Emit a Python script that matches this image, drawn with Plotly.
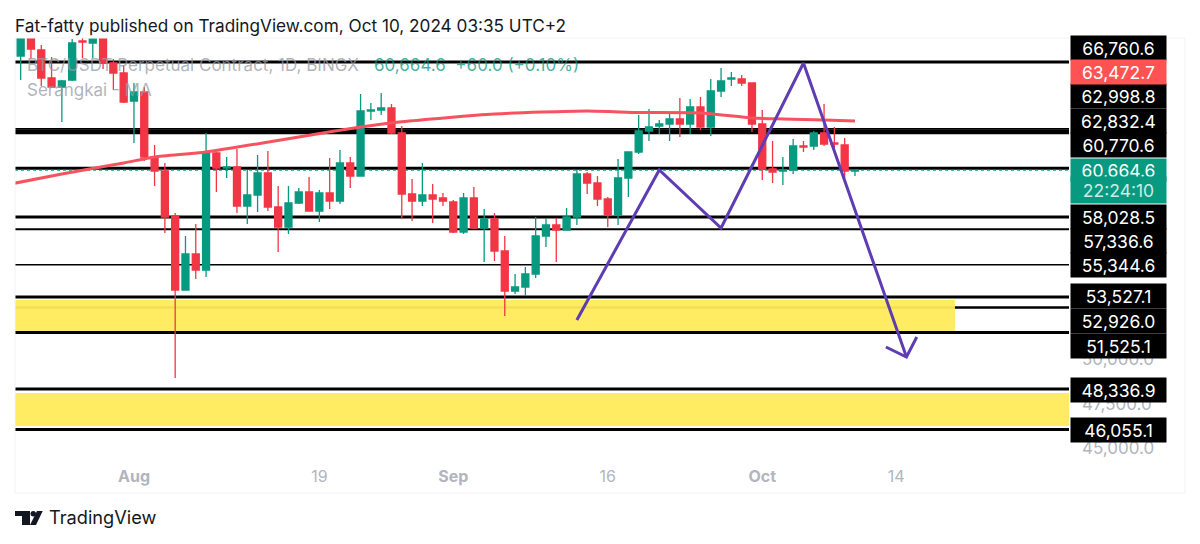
# tradingview btc chart rebuilt with plotly

import pandas as pd
import plotly.graph_objects as go

# the page body has an 8px margin, so the figure is 8px smaller and all pixel helpers shift by 8
PAGE = 8
W, H = 1200 - PAGE, 544 - PAGE
LEFT, RIGHT, TOP, BOTTOM = 15 - PAGE, 1069 - PAGE, 38 - PAGE, 460 - PAGE

dates = pd.date_range("2024-07-21", "2024-10-10", freq="D")

opens = [67099, 68113, 67437, 65859, 65352, 65747, 67944, 67831, 68113, 66705, 66141,
         64564, 65071, 61409, 60620, 58085, 53915, 55944, 55042, 61634, 60789, 60845,
         58648, 59268, 60507, 58592, 57465, 58817, 59437, 58366, 59380, 58930, 61071,
         60338, 64000, 64057, 64169, 62761, 59324, 58930, 59268, 59099,
         58873, 57183, 59099, 57408, 57916, 56113, 53859, 54084, 54817, 56958, 57577,
         57296, 58028, 60451, 59944, 59042, 58141, 60225, 61690, 62873, 63155, 63268,
         63550, 63268, 64226, 63099, 65127, 65803, 65803, 65578,
         63268, 60733, 60620, 60676, 62028, 62028, 62761, 62197, 62085, 60620]
highs = [68300, 68300, 67719, 67043, 65747, 68057, 68113, 68200, 68300, 66930, 66592,
         65578, 65352, 62085, 61071, 58254, 56958, 57634, 62761, 61690, 61409, 61859,
         60676, 61521, 61747, 59775, 59775, 59662, 60282, 59549, 61352, 61803, 61409,
         64958, 64451, 65014, 64395, 63155, 60169, 61071, 59887, 59380,
         58986, 59380, 59718, 58479, 58254, 56958, 54817, 55211, 58028, 57972, 57972,
         58535, 60676, 60564, 60338, 59155, 61296, 61690, 63775, 64113, 63493, 63888,
         64733, 64676, 64789, 65803, 66423, 66198, 66028, 65578,
         64057, 62310, 61409, 62423, 62310, 62873, 64395, 63099, 62479, 60676]
lows = [65747, 66930, 65409, 65296, 63381, 65690, 66986, 66986, 66367, 65183, 64451,
        62197, 61183, 59775, 57127, 48957, 53915, 54535, 54648, 59437, 60225, 58254,
        57634, 58310, 58366, 56056, 57070, 58761, 58366, 57747, 58479, 58761, 59662,
        60338, 63493, 63775, 62704, 57916, 57803, 58648, 57690, 58648,
        57127, 57070, 57352, 55493, 55549, 52451, 53690, 53577, 54591, 56338, 55493,
        57296, 57577, 59324, 58648, 57465, 57577, 59155, 61578, 62310, 62704, 62310,
        62535, 62704, 62930, 62592, 64789, 65409, 65409, 62817,
        60113, 59944, 59831, 60451, 61690, 61803, 62028, 61803, 60225, 60338]
closes = [68113, 67493, 65859, 65352, 65690, 67831, 67888, 68057, 66705, 66141, 64507,
          65071, 61409, 60620, 58028, 53915, 55944, 55042, 61634, 60789, 60845, 58648,
          59268, 60507, 58592, 57465, 58817, 59437, 58366, 59380, 58930, 61071, 60338,
          64000, 64057, 64169, 62761, 59324, 58930, 59268, 59042, 58930,
          57183, 59099, 57408, 57916, 56113, 53859, 54084, 54817, 56958, 57577, 57296,
          58028, 60451, 59944, 59042, 58141, 60225, 61690, 62873, 63099, 63268, 63550,
          63268, 64226, 63099, 65127, 65690, 65859, 65578, 63268,
          60733, 60564, 60676, 62028, 61972, 62761, 62141, 62141, 60620, 60664]

ma_dates = ["2024-07-20", "2024-07-25", "2024-07-31", "2024-08-03", "2024-08-08", "2024-08-17",
            "2024-08-23", "2024-08-27", "2024-09-05", "2024-09-14", "2024-09-19", "2024-09-25",
            "2024-09-30", "2024-10-03", "2024-10-07", "2024-10-10"]
ma_values = [59887, 60451, 61071, 61409, 61690, 62535, 63099, 63397, 63831, 64000, 63916,
             63888, 63606, 63550, 63493, 63437]

pattern_dates = ["2024-09-13", "2024-09-21", "2024-09-27", "2024-10-05", "2024-10-15"]
pattern_prices = [52225, 60676, 57408, 66705, 50141]
arrow_dates = ["2024-10-13", "2024-10-15", "2024-10-16"]
arrow_prices = [50704, 50141, 51267]

last_price = 60664.6
ma_price = 63472.7
level_prices = [66760.6, 62998.8, 62832.4, 60770.6, 58028.5, 57336.6, 55344.6, 53527.1, 52926.0, 51525.1, 48336.9, 46055.1]
level_widths = [3, 1.5, 5, 3, 3, 2, 1.5, 3, 2.5, 3, 3, 3]
level_label_rows = [48, 96, 121, 145, 217, 241, 265, 296, 321, 346, 390, 430]

# the other round prices are hidden behind the black level labels
tick_prices = [45000, 47500, 50000]
time_ticks = ["2024-08-01", "2024-08-19", "2024-09-01", "2024-09-16", "2024-10-01", "2024-10-14"]
time_labels = ["<b>Aug</b>", "19", "<b>Sep</b>", "16", "<b>Oct</b>", "14"]

zones = [("2024-07-20 10:48", "2024-10-19 17:00", 53352, 51605),
         ("2024-07-20 10:48", "2024-10-30 18:43", 48112, 46253)]

GREEN = "#089981"
RED = "#F23645"
GREY = "#B2B5BE"
FONT = "Inter"


def px_x(x):
    return (x - PAGE - LEFT) / (RIGHT - LEFT)


def px_y(y):
    return (BOTTOM - (y - PAGE)) / (BOTTOM - TOP)


fig = go.Figure()

fig.add_trace(go.Candlestick(
    x=dates, open=opens, high=highs, low=lows, close=closes,
    increasing=dict(line=dict(color=GREEN, width=1.3), fillcolor=GREEN),
    decreasing=dict(line=dict(color=RED, width=1.3), fillcolor=RED),
    whiskerwidth=0, showlegend=False,
))
fig.add_trace(go.Scatter(x=ma_dates, y=ma_values, mode="lines", showlegend=False,
                         line=dict(color="#F7525F", width=3, shape="spline", smoothing=0.6)))
fig.add_trace(go.Scatter(x=pattern_dates, y=pattern_prices, mode="lines", showlegend=False,
                         line=dict(color="#5E3DB3", width=3)))
fig.add_trace(go.Scatter(x=arrow_dates, y=arrow_prices, mode="lines", showlegend=False,
                         line=dict(color="#5E3DB3", width=3)))

# horizontal levels sit under the candles
for price, width in zip(level_prices, level_widths):
    fig.add_shape(type="line", xref="paper", x0=0, x1=1, yref="y", y0=price, y1=price,
                  line=dict(color="#000000", width=width), layer="below")
fig.add_shape(type="line", xref="paper", x0=0, x1=1, yref="y", y0=last_price, y1=last_price,
              line=dict(color=GREEN, width=1, dash="dot"), layer="below")
for start, end, upper, lower in zones:
    fig.add_shape(type="rect", xref="x", x0=start, x1=end, yref="y", y0=lower, y1=upper,
                  fillcolor="#FFEB5A", opacity=0.95, line_width=0, layer="below")

# light frame round the whole chart
fig.add_shape(type="rect", xref="paper", yref="paper", x0=px_x(15), x1=px_x(1185),
              y0=px_y(493), y1=px_y(38), line=dict(color="#F0F3FA", width=1))


def price_label(text, row, bg, color="#FFFFFF", height=24):
    fig.add_annotation(text=text, xref="paper", yref="paper", x=px_x(1118.5), y=px_y(row),
                       xanchor="center", yanchor="middle", showarrow=False, bgcolor=bg,
                       width=95, height=height, borderpad=0,
                       font=dict(family=FONT, size=17.5, color=color))


for price, row in zip(level_prices, level_label_rows):
    price_label(f"{price:,.1f}", row, "#000000")
price_label(f"{ma_price:,.1f}", 72, "#FF5252")
price_label(f"{last_price:,.1f}", 170, GREEN, height=22)
price_label("22:24:10", 190, GREEN, color="#CDEBE5", height=26)


def text_at(text, x, y, size, color, family=FONT):
    fig.add_annotation(text=text, xref="paper", yref="paper", x=px_x(x - 2), y=px_y(y),
                       xanchor="left", yanchor="middle", showarrow=False,
                       font=dict(family=family, size=size, color=color))


text_at("Fat-fatty published on TradingView.com, Oct 10, 2024 03:35 UTC+2", 15, 26, 17.2, "#131722")
text_at("BTC/USDT Perpetual Contract, 1D, BINGX", 27, 65, 17, "rgba(150,154,165,0.75)")
text_at("60,664.6  +60.0 (+0.10%)", 374, 65, 17, "rgba(8,153,129,0.75)")
text_at("Serangkai - MA", 27, 90, 17, "rgba(150,154,165,0.75)")
text_at("TradingView", 49, 517, 18.2, "#131722")

# logo
logo_t = [(15, 511), (30, 511), (30, 525), (22, 525), (22, 516), (15, 516)]
logo_slash = [(37, 511), (42.7, 511), (36, 525), (30, 525)]
for pts in (logo_t, logo_slash):
    path = "M " + " L ".join(f"{px_x(a)},{px_y(b)}" for a, b in pts) + " Z"
    fig.add_shape(type="path", path=path, xref="paper", yref="paper", fillcolor="#131722", line_width=0)
fig.add_shape(type="circle", xref="paper", yref="paper", x0=px_x(30.5), x1=px_x(36),
              y0=px_y(516.5), y1=px_y(511), fillcolor="#131722", line_width=0)

fig.update_layout(
    width=W, height=H,
    margin=dict(l=LEFT, r=W - RIGHT, t=TOP, b=H - BOTTOM),
    paper_bgcolor="white", plot_bgcolor="white",
    hovermode=False, boxgap=0.03, showlegend=False,
    xaxis=dict(type="date", range=["2024-07-20 10:48", "2024-10-30 18:43"],
               rangeslider=dict(visible=False), showgrid=False, zeroline=False,
               showline=False, tickmode="array", tickvals=time_ticks, ticktext=time_labels,
               ticks="", ticklabelstandoff=5, tickfont=dict(family=FONT, size=16, color=GREY)),
    yaxis=dict(side="right", range=[44337, 68113], showgrid=False, zeroline=False,
               showline=False, tickmode="array", tickvals=tick_prices,
               ticktext=[f"{t:,.1f}" for t in tick_prices], ticks="", ticklabelstandoff=12,
               tickfont=dict(family=FONT, size=17, color=GREY)),
)

fig.write_html("out.html")
